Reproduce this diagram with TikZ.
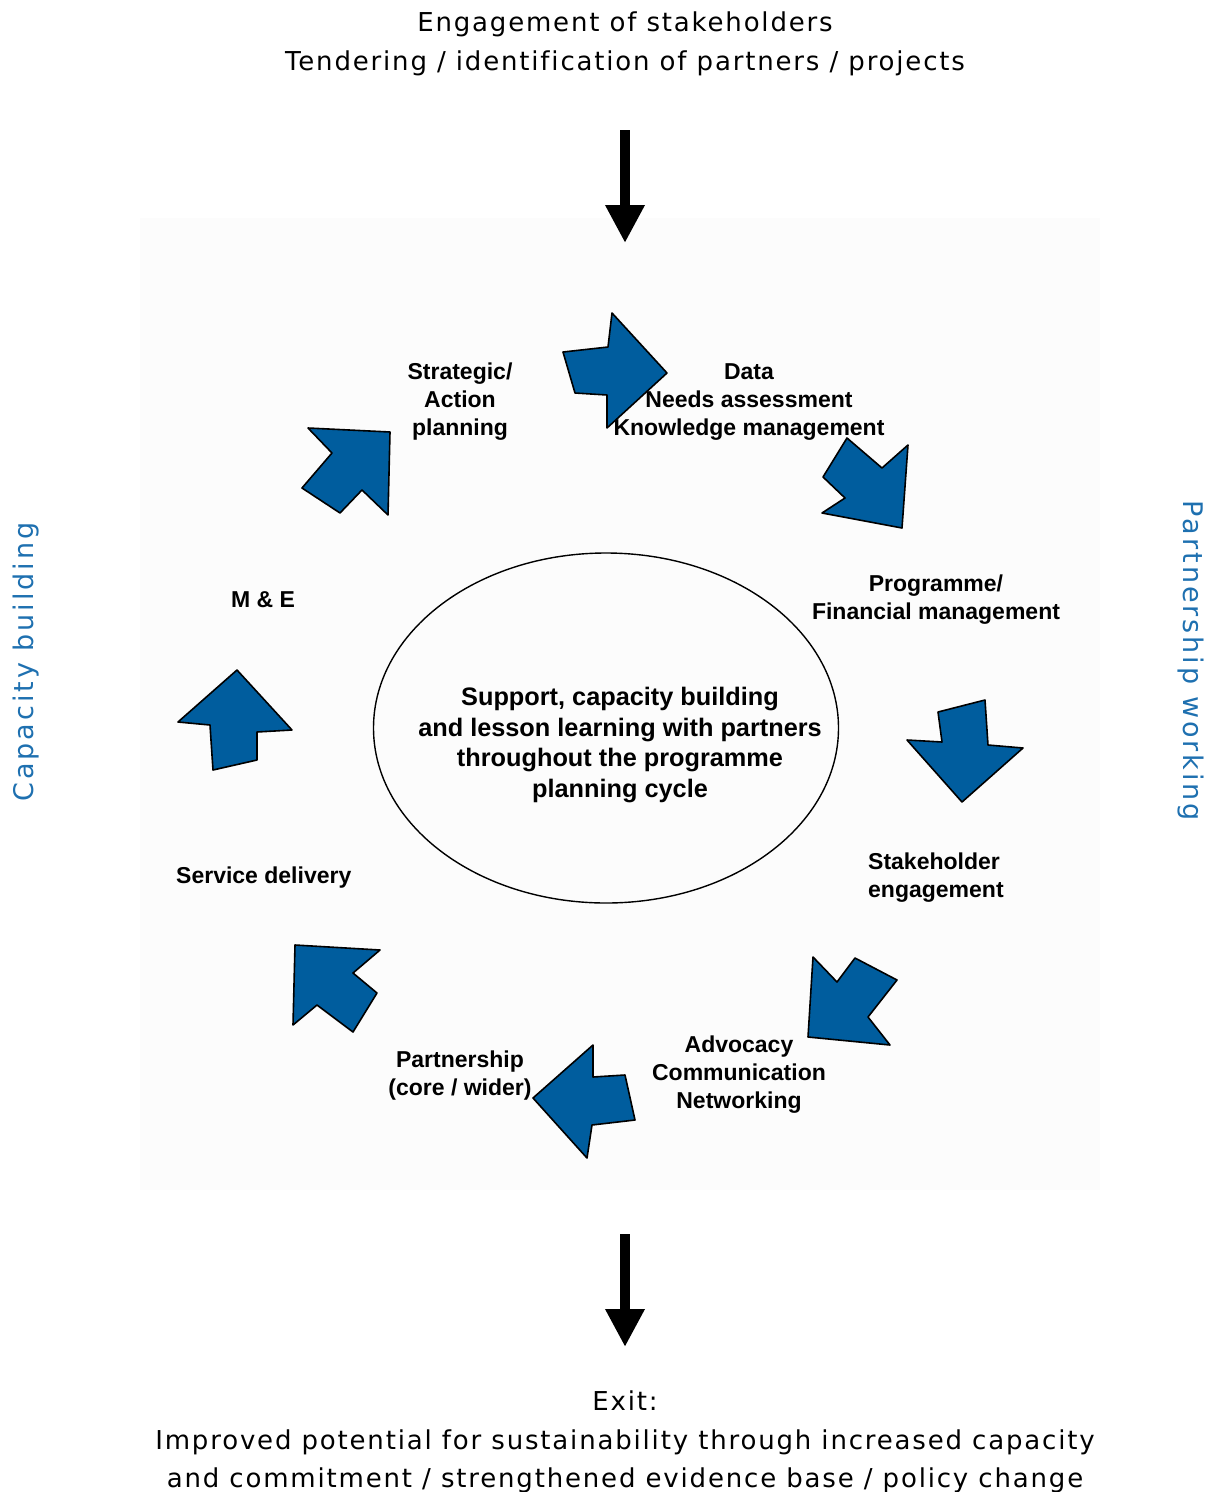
\documentclass[tikz,border=0pt]{standalone}
\usepackage{fontspec}
\setmainfont{Liberation Sans}
\newfontfamily\outerfont[LetterSpace=7,Ligatures=NoCommon]{DejaVu Sans}
\newfontfamily\sidefont[LetterSpace=11,Ligatures=NoCommon]{DejaVu Sans}
\newfontfamily\labfont{Liberation Sans}[BoldFont={Liberation Sans Bold}]
\usetikzlibrary{shapes.geometric,arrows.meta}
\definecolor{arrowblue}{RGB}{0,93,158}
\definecolor{sideblue}{RGB}{30,112,176}
\tikzset{
  outer/.style={font=\outerfont\fontsize{26}{38.5}\selectfont, align=center, inner sep=0pt},
  side/.style={font=\sidefont\fontsize{27}{30}\selectfont, text=sideblue, inner sep=0pt},
  lab/.style={font=\labfont\bfseries\fontsize{23}{28}\selectfont, align=center, inner sep=0pt},
  hubtxt/.style={font=\labfont\bfseries\fontsize{25.3}{30.5}\selectfont, align=center, inner sep=0pt},
  cyc/.style={fill=arrowblue, draw=black, line width=1.6pt, line join=round},
  flow/.style={line width=10pt, -{Triangle[length=38pt,width=37pt]}},
}
\begin{document}
\begin{tikzpicture}[x=1pt,y=-1pt]
\useasboundingbox (0,0) rectangle (1214,1492);
\fill[black!1] (140,218) rectangle (1100,1190);

% outer texts
\node[outer] (top) at (625,44) {Engagement of stakeholders\\Tendering / identification of partners / projects};
\node[outer] (exit) at (625,1442) {Exit:\\Improved potential for sustainability through increased capacity\\and commitment / strengthened evidence base / policy change};
\node[side, rotate=90] (cap) at (26,662) {Capacity building};
\node[side, rotate=-90] (part) at (1191,661) {Partnership working};

% black flow arrows
\coordinate (inA) at (625,130);
\coordinate (inB) at (625,243);
\coordinate (outA) at (625,1234);
\coordinate (outB) at (625,1347);
\draw[flow] (inA) -- (inB);
\draw[flow] (outA) -- (outB);

% central ellipse
\node[ellipse, draw, line width=1.4pt, minimum width=465pt, minimum height=350pt] (hub) at (606,728) {};
\node[hubtxt] (hubtext) at (620,745) {Support, capacity building\\and lesson learning with partners\\throughout the programme\\planning cycle};

% labels
\node[lab] (strat) at (460,402) {Strategic/\\Action\\planning};
\node[lab] (data) at (749,402) {Data\\Needs assessment\\Knowledge management};
\node[lab] (prog) at (936,600) {Programme/\\Financial management};
\node[lab, align=left, anchor=west] (stake) at (868,878) {Stakeholder\\engagement};
\node[lab] (advo) at (739,1075) {Advocacy\\Communication\\Networking};
\node[lab] (partn) at (460,1076) {Partnership\\(core / wider)};
\node[lab, anchor=west] (serv) at (176,878) {Service delivery};
\node[lab, anchor=west] (me) at (231,600) {M \& E};

% blue cycle arrows
\draw[cyc] (563,352) -- (608,347) -- (612,313) -- (667,373) -- (607,428) -- (607,395) -- (575,393) -- cycle;
\draw[cyc] (847,438) -- (882,468) -- (908,445) -- (902,528) -- (822,513) -- (845,498) -- (823,477) -- cycle;
\draw[cyc] (938,712) -- (985,700) -- (988,745) -- (1023,748) -- (962,802) -- (907,740) -- (942,742) -- cycle;
\draw[cyc] (813,957) -- (837,982) -- (855,958) -- (897,980) -- (868,1017) -- (890,1045) -- (808,1037) -- cycle;
\draw[cyc] (593,1045) -- (593,1077) -- (625,1075) -- (635,1120) -- (592,1125) -- (587,1158) -- (533,1098) -- cycle;
\draw[cyc] (295,945) -- (380,950) -- (353,973) -- (377,993) -- (353,1032) -- (317,1005) -- (293,1025) -- cycle;
\draw[cyc] (237,670) -- (292,730) -- (257,732) -- (257,760) -- (213,770) -- (210,725) -- (178,722) -- cycle;
\draw[cyc] (308,428) -- (390,432) -- (388,515) -- (362,490) -- (340,513) -- (302,488) -- (332,453) -- cycle;
\end{tikzpicture}
\end{document}
